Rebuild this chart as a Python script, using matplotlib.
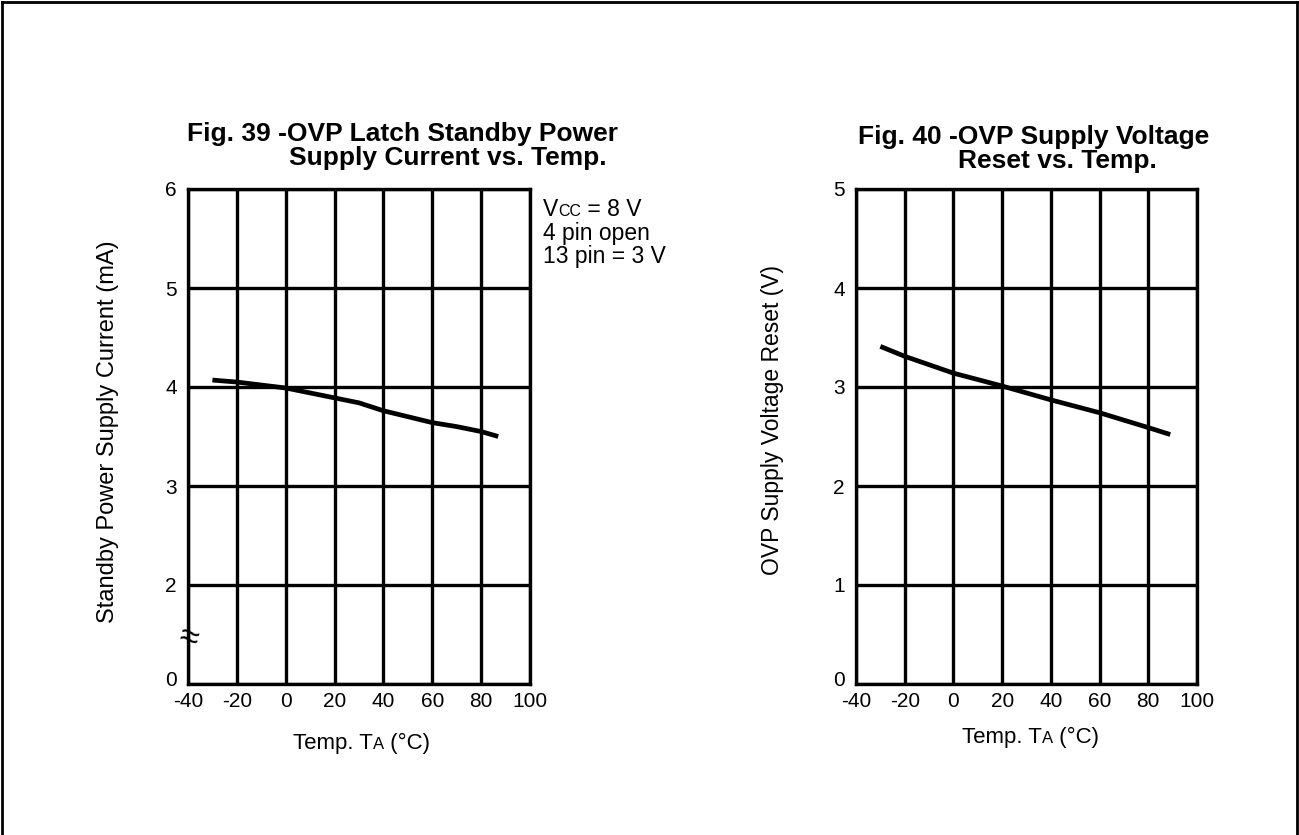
import matplotlib
matplotlib.use("Agg")
import matplotlib.pyplot as plt
from matplotlib.lines import Line2D
import matplotlib.transforms as mtransforms

plt.rcParams["font.family"] = ["Liberation Sans", "DejaVu Sans"]
plt.rcParams["axes.unicode_minus"] = False

W, H = 1299, 835

# Fig. 39 data
temp_39 = [-30, -20, -10, 0, 10, 20, 30, 40, 50, 60, 70, 80, 87]
current_39 = [4.07, 4.05, 4.02, 3.99, 3.94, 3.89, 3.84, 3.76, 3.70, 3.64, 3.60, 3.55, 3.50]

# Fig. 40 data
temp_40 = [-30, -20, 0, 20, 40, 60, 80, 89]
reset_40 = [3.41, 3.31, 3.14, 3.01, 2.87, 2.74, 2.59, 2.52]

x_ticks = [-40, -20, 0, 20, 40, 60, 80, 100]
y_ticks_39 = [1, 2, 3, 4, 5, 6]            # 1 stands for the broken-axis "0"
y_labels_39 = ["0", "2", "3", "4", "5", "6"]
y_ticks_40 = [0, 1, 2, 3, 4, 5]

fig = plt.figure(figsize=(W / 100, H / 100), dpi=100)
fig.patch.set_facecolor("white")


def px(x, y):
    return x / W, 1 - y / H


def make_axes(x0, x1, y0, y1):
    l, t = px(x0, y0)
    r, b = px(x1, y1)
    ax = fig.add_axes([l, b, r - l, t - b])
    for s in ax.spines.values():
        s.set_linewidth(2.4)
    ax.tick_params(length=0, labelsize=15)
    ax.tick_params(axis="x", pad=6)
    ax.tick_params(axis="y", pad=8)
    ax.grid(True, color="black", linewidth=2.4)
    ax.set_axisbelow(True)
    return ax


def rich_text(x, y, parts, bold=False):
    """draw text pieces of different size on one baseline, x/y in pixels"""
    renderer = fig.canvas.get_renderer()
    for s, size in parts:
        t = fig.text(*px(x, y), s, fontsize=size, va="baseline", ha="left",
                     fontweight="bold" if bold else "normal")
        x += t.get_window_extent(renderer).width


def shift_zero_label(ax, dy):
    lbl = ax.get_yticklabels()[0]
    lbl.set_transform(lbl.get_transform() +
                      mtransforms.ScaledTranslation(0, dy / 72, fig.dpi_scale_trans))


# ---- Fig. 39 ----
ax1 = make_axes(188, 530, 189, 684)
ax1.plot(temp_39, current_39, color="black", linewidth=3.4, solid_capstyle="butt")
ax1.set_xlim(-40, 100)
ax1.set_ylim(1, 6)
ax1.set_xticks(x_ticks)
ax1.set_yticks(y_ticks_39)
ax1.set_yticklabels(y_labels_39)
shift_zero_label(ax1, 4)
ax1.text(-40, 1.47, "≈", fontsize=25, ha="center", va="center", rotation=-15)
fig.text(*px(108, 432), "Standby Power Supply Current (mA)", rotation=90,
         fontsize=17, ha="center", va="center")

fig.text(*px(187, 141), "Fig. 39 -OVP Latch Standby Power", fontsize=19,
         fontweight="bold", va="baseline", ha="left")
fig.text(*px(289, 165), "Supply Current vs. Temp.", fontsize=19,
         fontweight="bold", va="baseline", ha="left")

rich_text(543, 216, [("V", 16.5), ("CC", 11.5), (" = 8 V", 16.5)])
fig.text(*px(543, 240), "4 pin open", fontsize=16.5, va="baseline", ha="left")
fig.text(*px(543, 263), "13 pin = 3 V", fontsize=16.5, va="baseline", ha="left")

rich_text(293, 749, [("Temp. T", 16), ("A", 12), (" (°C)", 16)])

# ---- Fig. 40 ----
ax2 = make_axes(856, 1197, 189, 684)
ax2.plot(temp_40, reset_40, color="black", linewidth=3.4, solid_capstyle="butt")
ax2.set_xlim(-40, 100)
ax2.set_ylim(0, 5)
ax2.set_xticks(x_ticks)
ax2.set_yticks(y_ticks_40)
shift_zero_label(ax2, 4)
fig.text(*px(772, 420), "OVP Supply Voltage Reset (V)", rotation=90,
         fontsize=16.5, ha="center", va="center")

fig.text(*px(858, 144), "Fig. 40 -OVP Supply Voltage", fontsize=19,
         fontweight="bold", va="baseline", ha="left")
fig.text(*px(958, 168), "Reset vs. Temp.", fontsize=19,
         fontweight="bold", va="baseline", ha="left")

rich_text(962, 743, [("Temp. T", 16), ("A", 12), (" (°C)", 16)])

# outer frame (bottom edge is cut off in the original)
for xs, ys in [((0.0015, 0.0015), (0, 0.998)),
               ((0.0015, 0.9985), (0.998, 0.998)),
               ((0.9985, 0.9985), (0, 0.998))]:
    fig.add_artist(Line2D(xs, ys, color="black", linewidth=2, transform=fig.transFigure))

fig.savefig("out.png", dpi=100)
